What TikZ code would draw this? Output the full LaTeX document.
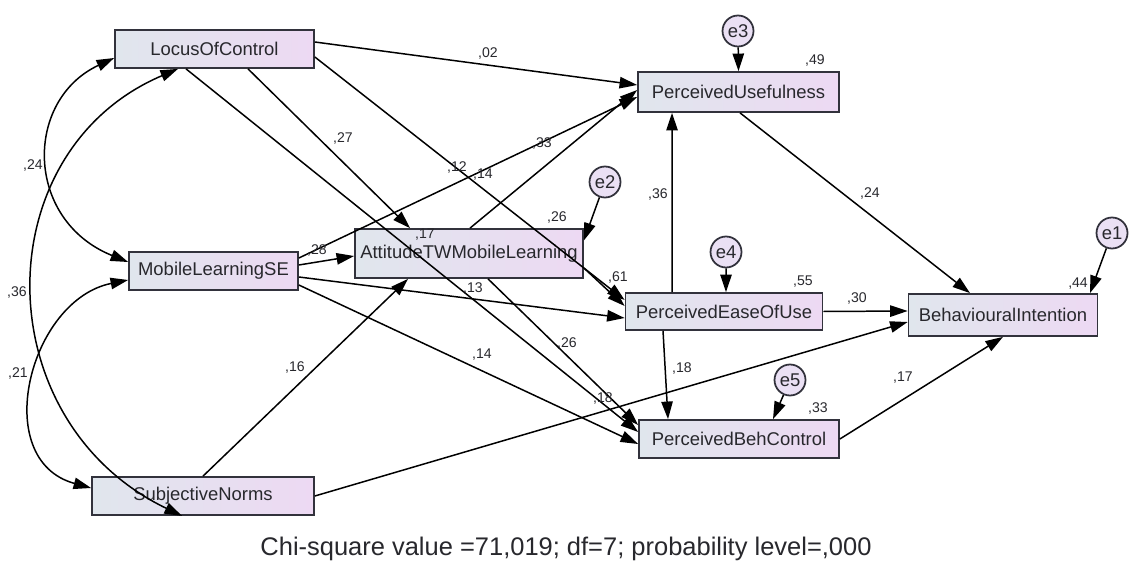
\documentclass[tikz,border=0pt]{standalone}
\usepackage{fontspec}
\setmainfont{Liberation Sans}
\usetikzlibrary{arrows.meta}
\definecolor{boxleft}{RGB}{224,230,237}
\definecolor{boxright}{RGB}{237,217,243}
\definecolor{errfill}{RGB}{234,224,244}
\definecolor{bord}{RGB}{50,50,60}
\definecolor{texte}{RGB}{40,40,45}
\begin{document}
\begin{tikzpicture}[x=0.02cm,y=-0.02cm,
	var/.style={draw=bord,line width=1pt,left color=boxleft,right color=boxright,inner sep=0pt,text=texte,font=\fontsize{10.5}{12}\selectfont},
	erreur/.style={circle,draw=bord,line width=1pt,fill=errfill,minimum size=0.62cm,inner sep=0pt,text=texte,font=\fontsize{10.5}{12}\selectfont},
	fleche/.style={-{Triangle[length=10pt,width=6.5pt]},line width=0.85pt},
	cov/.style={{Triangle[length=10pt,width=6.5pt]}-{Triangle[length=10pt,width=6.5pt]},line width=0.85pt},
	coef/.style={font=\fontsize{8}{9}\selectfont,text=texte,inner sep=0pt}]
	\path[use as bounding box,fill=white] (0,0) rectangle (1131,567);

	% Les variables
	\node[var,minimum width=3.98cm,minimum height=0.76cm] (loc) at (214.5,49) {LocusOfControl};
	\node[var,minimum width=3.38cm,minimum height=0.76cm] (mlse) at (213.5,271) {MobileLearningSE};
	\node[var,minimum width=4.44cm,minimum height=0.76cm] (sn) at (203,496) {SubjectiveNorms};
	\node[var,minimum width=4.56cm,minimum height=0.98cm] (att) at (469,253.5) {AttitudeTWMobileLearning};
	\node[var,minimum width=4.02cm,minimum height=0.80cm] (pu) at (738.5,92) {PerceivedUsefulness};
	\node[var,minimum width=3.94cm,minimum height=0.74cm] (peou) at (724,311.5) {PerceivedEaseOfUse};
	\node[var,minimum width=3.78cm,minimum height=0.84cm] (bi) at (1003,315) {BehaviouralIntention};
	\node[var,minimum width=4.00cm,minimum height=0.76cm] (pbc) at (739,439) {PerceivedBehControl};

	% Les erreurs
	\node[erreur] (e3) at (738,31) {e3};
	\node[erreur] (e2) at (605,182) {e2};
	\node[erreur] (e4) at (726,252) {e4};
	\node[erreur] (e1) at (1112,233) {e1};
	\node[erreur] (e5) at (790,380) {e5};

	% Les chemins
	\draw[fleche] ([yshift=0.14cm]loc.east) -- ([yshift=0.14cm]pu.west);
	\draw[fleche] ([xshift=0.67cm]loc.south) -- ([xshift=-1.18cm]att.north);
	\draw[fleche] ([yshift=-0.16cm]loc.east) -- ([yshift=0.23cm]peou.west);
	\draw[fleche] ([xshift=-0.57cm]loc.south) -- ([yshift=0.14cm]pbc.west);
	\draw[fleche] ([yshift=0.12cm]mlse.east) -- ([yshift=-0.05cm]att.west);
	\draw[fleche] ([yshift=0.26cm]mlse.east) -- ([yshift=-0.1cm]pu.west);
	\draw[fleche] ([yshift=-0.12cm]mlse.east) -- ([yshift=-0.13cm]peou.west);
	\draw[fleche] ([yshift=-0.28cm]mlse.east) -- ([yshift=-0.1cm]pbc.west);
	\draw[fleche] ([xshift=0.02cm]att.north) -- ([yshift=0.04cm]pu.west);
	\draw[fleche] ([yshift=-0.29cm]att.east) -- ([yshift=0.11cm]peou.west);
	\draw[fleche] ([xshift=0.38cm]att.south) -- ([yshift=0.28cm]pbc.west);
	\draw[fleche] (sn.north) -- ([xshift=-1.22cm]att.south);
	\draw[fleche] (sn.east) -- ([yshift=-0.14cm]bi.west);
	\draw[fleche] ([xshift=-1.04cm]peou.north) -- ([xshift=-1.33cm]pu.south);
	\draw[fleche] (peou.east) -- ([yshift=0.08cm]bi.west);
	\draw[fleche] ([xshift=-1.22cm]peou.south) -- ([xshift=-1.42cm]pbc.north);
	\draw[fleche] ([xshift=0.03cm]pu.south) -- ([xshift=-0.66cm]bi.north);
	\draw[fleche] (pbc.east) -- (bi.south);

	% Les erreurs vers les variables
	\draw[fleche] (e3) -- (pu.north);
	\draw[fleche] (e2) -- ([yshift=0.26cm]att.east);
	\draw[fleche] (e4) -- ([xshift=0.04cm]peou.north);
	\draw[fleche] (e1) -- ([xshift=1.74cm]bi.north);
	\draw[fleche] (e5) -- ([xshift=0.68cm]pbc.north);

	% Les covariances
	\draw[cov] ([yshift=-0.18cm]loc.west) .. controls +(-90,42) and +(-104,-42) .. ([yshift=0.18cm]mlse.west);
	\draw[cov] ([xshift=-0.73cm]loc.south) .. controls +(-193,82) and +(-197,-95) .. ([xshift=-0.42cm]sn.south);
	\draw[cov] ([yshift=-0.18cm]mlse.west) .. controls +(-99,20) and +(-102,-28) .. ([yshift=0.16cm]sn.west);

	% Les coefficients
	\node[coef] (k-loc-mlse) at (33,165) {,24};
	\node[coef] (k-loc-sn) at (17,292) {,36};
	\node[coef] (k-mlse-sn) at (18,373) {,21};
	\node[coef] (k-loc-pu) at (488,53) {,02};
	\node[coef] (k-loc-att) at (343,138) {,27};
	\node[coef] (k-loc-peou) at (457,167) {,12};
	\node[coef] (k-att-pu) at (483,175) {,14};
	\node[coef] (k-mlse-pu) at (542,143) {,33};
	\node[coef] (k-loc-pbc) at (425,235) {,17};
	\node[coef] (k-mlse-att) at (317,250) {,28};
	\node[coef] (k-att-peou) at (618,277) {,61};
	\node[coef] (k-mlse-peou) at (473,288) {,13};
	\node[coef] (k-mlse-pbc) at (482,355) {,14};
	\node[coef] (k-att-pbc) at (567,343) {,26};
	\node[coef] (k-sn-att) at (295,367) {,16};
	\node[coef] (k-peou-pu) at (658,194) {,36};
	\node[coef] (k-pu-bi) at (870,193) {,24};
	\node[coef] (k-peou-bi) at (857,298) {,30};
	\node[coef] (k-peou-pbc) at (682,368) {,18};
	\node[coef] (k-pbc-bi) at (903,378) {,17};
	\node[coef] (k-sn-bi) at (603,398) {,18};

	% Les R2
	\node[coef] (r-pu) at (815,60) {,49};
	\node[coef] (r-att) at (557,217) {,26};
	\node[coef] (r-peou) at (803,282) {,55};
	\node[coef] (r-bi) at (1078,284) {,44};
	\node[coef] (r-pbc) at (818,408) {,33};

	% Le test
	\node[font=\fontsize{14.5}{17}\selectfont,text=texte] (chi) at (566,549) {Chi-square value =71,019; df=7; probability level=,000};
\end{tikzpicture}
\end{document}
